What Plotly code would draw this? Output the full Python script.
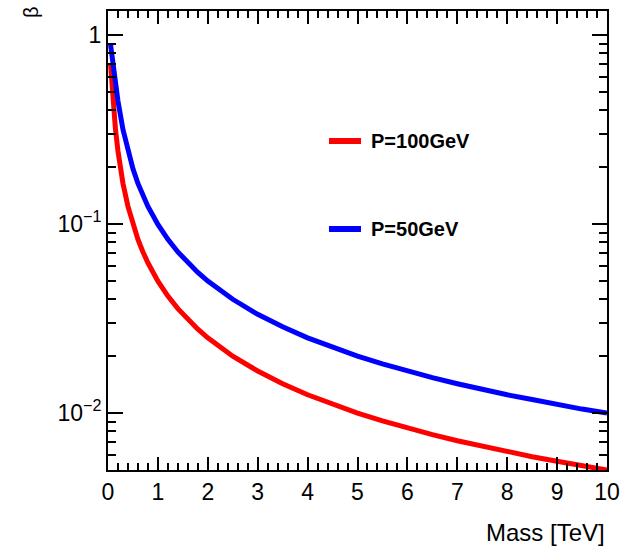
import plotly.graph_objects as go

mass = [0.05, 0.1, 0.15, 0.2, 0.3, 0.4, 0.5, 0.6, 0.7, 0.8, 1.0, 1.2, 1.4, 1.6, 1.8, 2.0,
        2.5, 3.0, 3.5, 4.0, 4.5, 5.0, 5.5, 6.0, 6.5, 7.0, 7.5, 8.0, 8.5, 9.0, 9.5, 10.0]
beta_red = [0.707, 0.447, 0.316, 0.243, 0.164, 0.124, 0.0995, 0.0830, 0.0712, 0.0624,
            0.0499, 0.0416, 0.0357, 0.0312, 0.0278, 0.0250, 0.0200, 0.0167, 0.0143, 0.0125,
            0.0111, 0.0100, 0.00909, 0.00833, 0.00769, 0.00714, 0.00667, 0.00625, 0.00588,
            0.00556, 0.00526, 0.00500]
beta_blue = [0.894, 0.707, 0.555, 0.447, 0.316, 0.243, 0.196, 0.164, 0.141, 0.124,
             0.0995, 0.0830, 0.0712, 0.0624, 0.0555, 0.0499, 0.0400, 0.0333, 0.0286, 0.0250,
             0.0222, 0.0200, 0.0182, 0.0167, 0.0154, 0.0143, 0.0133, 0.0125, 0.0118,
             0.0111, 0.0105, 0.0100]
labels = ["P=100GeV", "P=50GeV"]
x_ticks = [0, 1, 2, 3, 4, 5, 6, 7, 8, 9, 10]
y_tickvals = [0.01, 0.1, 1]
y_ticktext = ["10<sup>\u22122</sup>", "10<sup>\u22121</sup>", "1"]

FONT = "Liberation Sans, Arial, Helvetica, sans-serif"

fig = go.Figure()
fig.add_trace(go.Scatter(x=mass, y=beta_red, mode="lines", name=labels[0],
                         line=dict(color="#ff0000", width=5), showlegend=False))
fig.add_trace(go.Scatter(x=mass, y=beta_blue, mode="lines", name=labels[1],
                         line=dict(color="#0000ff", width=5), showlegend=False))

# legend drawn as line samples + text
legend_y = [0.7168, 0.5251]
legend_col = ["#ff0000", "#0000ff"]
for lab, yy, col in zip(labels, legend_y, legend_col):
    fig.add_shape(type="line", xref="paper", yref="paper",
                  x0=0.4429, x1=0.5070, y0=yy, y1=yy,
                  line=dict(color=col, width=6))
    fig.add_annotation(xref="paper", yref="paper", x=0.5231, y=yy, text="<b>%s</b>" % lab,
                       showarrow=False, xanchor="left", yanchor="middle",
                       font=dict(family=FONT, size=20, color="black"))

fig.add_annotation(xref="paper", yref="paper", x=1.0, y=-0.137, text="Mass [TeV]",
                   showarrow=False, xanchor="right", yanchor="middle",
                   font=dict(family=FONT, size=24, color="black"))
fig.add_annotation(xref="paper", yref="paper", x=-0.154, y=0.998, text="\u03b2",
                   showarrow=False, xanchor="center", yanchor="middle", textangle=-90,
                   font=dict(family=FONT, size=20, color="black"))

fig.update_layout(
    width=633, height=550,
    margin=dict(l=108, r=26, t=11, b=80),
    paper_bgcolor="white", plot_bgcolor="white",
    font=dict(family=FONT, size=23, color="black"),
)
fig.update_xaxes(range=[0, 10], tickvals=x_ticks, ticks="inside", ticklen=13, tickwidth=1.5,
                 showline=True, linecolor="black", linewidth=2, mirror="ticks",
                 showgrid=False, zeroline=False, automargin=False,
                 minor=dict(ticks="inside", ticklen=7, dtick=0.2, tickwidth=1.5,
                            tickcolor="black", showgrid=False),
                 tickcolor="black", tickfont=dict(size=23))
fig.update_yaxes(type="log", range=[-2.301, 0.127], tickvals=y_tickvals, ticktext=y_ticktext,
                 ticks="inside", ticklen=15, tickwidth=1.5,
                 showline=True, linecolor="black", linewidth=2, mirror="ticks",
                 showgrid=False, zeroline=False, automargin=False,
                 minor=dict(ticks="inside", ticklen=8, dtick="D1", tickwidth=1.5,
                            tickcolor="black", showgrid=False),
                 tickcolor="black", tickfont=dict(size=23))

fig.write_html("out.html", config={"displayModeBar": False},
               post_script="document.body.style.margin='0px';document.body.style.overflow='hidden';")
